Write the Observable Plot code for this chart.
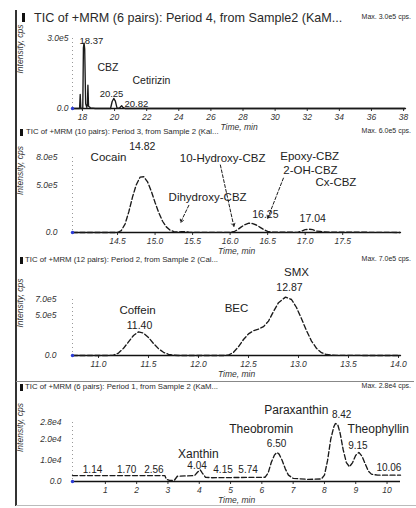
<!DOCTYPE html>
<html><head><meta charset="utf-8">
<script src="https://cdn.jsdelivr.net/npm/d3@7"></script>
<script src="https://cdn.jsdelivr.net/npm/@observablehq/plot@0.6"></script>
<style>
html,body{margin:0;padding:0;background:#fff;}
#chart{position:relative;width:416px;height:508px;overflow:hidden;font-family:"Liberation Sans",Arial,sans-serif;color:#222;}
#chart svg{position:absolute;left:0;top:0;}
.t{position:absolute;white-space:nowrap;line-height:1;color:#2a2a2a;}
.bar{position:absolute;background:#111;}
.ln{position:absolute;}
</style></head><body><div id="chart"></div>
<script>
// ---------- Panel 1 : Period 4 ----------
const p1Time = [17.38, 17.82, 17.86, 17.9, 18.02, 18.06, 18.1, 18.14, 18.2, 18.27, 18.31, 18.34, 18.38, 18.5, 18.8, 19.75, 19.85, 19.95, 20.05, 20.15, 20.3, 20.38, 20.44, 20.52, 20.65, 38.12];
const p1Intensity = [0, 0, 0.6e5, 0, 0, 2.6e5, 2.8e5, 2.55e5, 0.2e5, 0.05e5, 0.2e5, 1.0e5, 0.1e5, 0.03e5, 0, 0, 0.3e5, 0.43e5, 0.32e5, 0.03e5, 0.01e5, 0.08e5, 0.12e5, 0.05e5, 0, 0];
const p1Names = ["CBZ", "Cetirizin"];
const p1NameTime = [19.59, 22.3];
const p1NameInt = [1.76e5, 1.2e5];
const p1Peaks = ["18.37", "20.25", "20.82"];
const p1PeakTime = [18.56, 19.81, 21.36];
const p1PeakInt = [2.91e5, 0.64e5, 0.21e5];
const p1XTicks = [18, 20, 22, 24, 26, 28, 30, 32, 34, 36, 38];
const p1YTicks = [0, 3e5];
const p1YLabels = ["0.0", "3.0e5"];
const p1XDomain = [17.38, 38.12];
const p1YDomain = [0, 3e5];

// ---------- Panel 2 : Period 3 ----------
const p2Time = [13.9, 14.5, 14.55, 14.6, 14.65, 14.7, 14.75, 14.8, 14.85, 14.9, 14.95, 15.0, 15.05, 15.1, 15.15, 15.2, 15.25, 15.3, 15.35, 15.4, 15.45, 15.5, 16.0, 16.05, 16.1, 16.15, 16.2, 16.25, 16.3, 16.35, 16.4, 16.45, 16.5, 16.55, 16.9, 16.95, 17.0, 17.05, 17.1, 17.15, 17.2, 17.25, 18.27];
const p2Intensity = [0, 0, 0.2e5, 0.9e5, 2.2e5, 3.8e5, 5.1e5, 5.9e5, 5.95e5, 5.4e5, 4.4e5, 3.2e5, 2.1e5, 1.2e5, 0.6e5, 0.25e5, 0.1e5, 0.05e5, 0.08e5, 0.1e5, 0.03e5, 0.01e5, 0.02e5, 0.08e5, 0.3e5, 0.6e5, 0.85e5, 1.0e5, 0.95e5, 0.8e5, 0.55e5, 0.3e5, 0.12e5, 0.03e5, 0.02e5, 0.15e5, 0.3e5, 0.35e5, 0.3e5, 0.15e5, 0.12e5, 0.05e5, 0];
const p2Names = ["Cocain", "10-Hydroxy-CBZ", "Dihydroxy-CBZ", "Epoxy-CBZ", "2-OH-CBZ", "Cx-CBZ"];
const p2NameTime = [14.38, 15.9, 15.7, 17.06, 17.07, 17.41];
const p2NameInt = [8.0e5, 7.9e5, 3.75e5, 8.15e5, 6.6e5, 5.36e5];
const p2Peaks = ["14.82", "16.25", "17.04"];
const p2PeakTime = [14.83, 16.47, 17.1];
const p2PeakInt = [9.2e5, 1.93e5, 1.5e5];
const p2ArrowFromT = [15.45, 15.87, 16.71];
const p2ArrowFromI = [2.9e5, 7.2e5, 5.8e5];
const p2ArrowToT = [15.34, 16.05, 16.5];
const p2ArrowToI = [1.07e5, 0.65e5, 1.5e5];
const p2XTicks = [14.5, 15.0, 15.5, 16.0, 16.5, 17.0, 17.5];
const p2YTicks = [0, 5e5, 8e5];
const p2YLabels = ["0.0", "5.0e5", "8.0e5"];
const p2XDomain = [13.9, 18.27];
const p2YDomain = [0, 8e5];

// ---------- Panel 3 : Period 2 ----------
const p3Time = [10.74, 11.1, 11.15, 11.2, 11.25, 11.3, 11.35, 11.4, 11.45, 11.5, 11.55, 11.6, 11.65, 11.7, 11.75, 11.8, 12.25, 12.3, 12.35, 12.4, 12.45, 12.5, 12.55, 12.6, 12.65, 12.7, 12.75, 12.8, 12.87, 12.93, 12.98, 13.03, 13.08, 13.13, 13.18, 13.23, 13.28, 13.33, 13.38, 14.02];
const p3Intensity = [0, 0, 0.05e5, 0.3e5, 0.9e5, 1.7e5, 2.5e5, 2.95e5, 2.8e5, 2.25e5, 1.5e5, 0.85e5, 0.4e5, 0.15e5, 0.04e5, 0, 0, 0.05e5, 0.4e5, 1.1e5, 2.0e5, 2.7e5, 3.1e5, 3.3e5, 3.6e5, 4.3e5, 5.5e5, 6.6e5, 7.3e5, 7.0e5, 6.0e5, 4.6e5, 3.1e5, 1.8e5, 0.9e5, 0.35e5, 0.12e5, 0.04e5, 0.01e5, 0];
const p3Names = ["Coffein", "BEC", "SMX"];
const p3NameTime = [11.39, 12.38, 12.98];
const p3NameInt = [5.6e5, 5.9e5, 10.4e5];
const p3Peaks = ["11.40", "12.87"];
const p3PeakTime = [11.41, 12.91];
const p3PeakInt = [3.75e5, 8.5e5];
const p3XTicks = [11.0, 11.5, 12.0, 12.5, 13.0, 13.5, 14.0];
const p3YTicks = [0, 5e5, 7e5];
const p3YLabels = ["0.0", "5.0e5", "7.0e5"];
const p3XDomain = [10.74, 14.02];
const p3YDomain = [0, 7e5];

// ---------- Panel 4 : Period 1 ----------
const p4Time = [-0.05, 2.9, 2.95, 3.05, 3.2, 3.3, 3.85, 3.95, 4.03, 4.1, 4.2, 4.4, 6.1, 6.2, 6.3, 6.4, 6.48, 6.55, 6.65, 6.75, 6.85, 7.0, 7.5, 7.9, 8.0, 8.1, 8.2, 8.3, 8.35, 8.42, 8.5, 8.6, 8.7, 8.8, 8.9, 9.0, 9.1, 9.2, 9.3, 9.4, 9.5, 9.7, 10.43];
const p4Intensity = [0.28e4, 0.28e4, 0.1e4, 0.05e4, 0.05e4, 0.25e4, 0.28e4, 0.45e4, 0.55e4, 0.4e4, 0.2e4, 0.18e4, 0.2e4, 0.4e4, 0.9e4, 1.25e4, 1.38e4, 1.3e4, 1.0e4, 0.6e4, 0.3e4, 0.15e4, 0.1e4, 0.12e4, 0.3e4, 1.0e4, 2.0e4, 2.6e4, 2.75e4, 2.72e4, 2.3e4, 1.5e4, 0.9e4, 0.7e4, 0.9e4, 1.25e4, 1.38e4, 1.2e4, 0.85e4, 0.5e4, 0.35e4, 0.3e4, 0.3e4];
const p4Names = ["Xanthin", "Theobromin", "Paraxanthin", "Theophyllin"];
const p4NameTime = [3.97, 5.98, 7.1, 9.72];
const p4NameInt = [1.3e4, 2.5e4, 3.4e4, 2.5e4];
const p4Peaks = ["1.14", "1.70", "2.56", "4.04", "4.15", "5.74", "6.50", "8.42", "9.15", "10.06"];
const p4PeakTime = [0.59, 1.68, 2.55, 3.93, 4.76, 5.56, 6.47, 8.55, 9.07, 10.06];
const p4PeakInt = [0.57e4, 0.57e4, 0.57e4, 0.76e4, 0.57e4, 0.57e4, 1.8e4, 3.15e4, 1.71e4, 0.67e4];
const p4XTicks = [1, 2, 3, 4, 5, 6, 7, 8, 9, 10];
const p4YTicks = [0, 1e4, 2e4, 2.8e4];
const p4YLabels = ["0.0", "1.0e4", "2.0e4", "2.8e4"];
const p4XDomain = [-0.05, 10.43];
const p4YDomain = [0, 2.8e4];

const titles = [
  "TIC of +MRM (6 pairs): Period 4, from Sample2 (KaM...",
  "TIC of +MRM (10 pairs): Period 3, from Sample 2 (Kal...",
  "TIC of +MRM (12 pairs): Period 2, from Sample 2 (Cal...",
  "TIC of +MRM (6 pairs): Period 1, from Sample 2 (KaM..."
];
const maxTexts = ["Max. 3.0e5 cps.", "Max. 6.0e5 cps.", "Max. 7.0e5 cps.", "Max. 2.8e4 cps."];
const xAxisLabel = "Time, min";
const yAxisLabel = "Intensity, cps";

// ---------- drawing ----------
const chart = document.getElementById("chart");
const W = 416, H = 508;
const FONT = "Liberation Sans, Arial, sans-serif";

function rows(...cols) { return d3.range(cols[0].length).map(i => cols.map(c => c[i])); }

function panel(o) {
  const trace = rows(o.time, o.intensity);
  const names = rows(o.nameTime, o.nameInt, o.names);
  const peaks = rows(o.peakTime, o.peakInt, o.peaks);
  const yMap = new Map(o.yTicks.map((v, i) => [v, o.yLabels[i]]));
  const marks = [
    Plot.ruleX([o.xDomain[0]], {stroke: "#999", strokeDasharray: "1,3"}),
    Plot.ruleY([0], {stroke: "#111", strokeWidth: 1.6}),
    Plot.line(trace, {x: d => d[0], y: d => d[1], stroke: "#1a1a1a", strokeWidth: 1.35, strokeDasharray: o.dash}),
    Plot.text(names, {x: d => d[0], y: d => d[1], text: d => d[2], fontSize: o.nameSize, fontStyle: "normal", fill: "#222"}),
    Plot.text(peaks, {x: d => d[0], y: d => d[1], text: d => d[2], fontSize: o.peakSize, fontStyle: "normal", fill: "#222"}),
    Plot.dot([[o.xDomain[0], 0]], {x: d => d[0], y: d => d[1], r: 1.7, fill: "#2b3bd6", stroke: null}),
    Plot.text([xAxisLabel], {frameAnchor: "bottom", dy: 21, text: d => d, fontSize: 8.5, fontStyle: "italic", fill: "#333"}),
    Plot.text([yAxisLabel], {frameAnchor: "left", rotate: -90, dx: -52, text: d => d, fontSize: 8.5, fontStyle: "italic", fill: "#333"})
  ];
  if (o.arrows) marks.push(Plot.arrow(o.arrows, {x1: d => d[0], y1: d => d[1], x2: d => d[2], y2: d => d[3], stroke: "#1a1a1a", strokeWidth: 1, strokeDasharray: "3,2", headLength: 5}));
  const svg = Plot.plot({
    width: W, height: H,
    marginLeft: 72, marginRight: W - o.right,
    marginTop: o.top, marginBottom: H - o.axis,
    style: {background: "transparent", fontFamily: FONT, fontSize: "8.5px", fontStyle: "italic", color: "#333", overflow: "visible"},
    x: {domain: o.xDomain, ticks: o.xTicks, tickFormat: o.xFormat, tickSize: 3, tickPadding: 2, label: null},
    y: {domain: o.yDomain, ticks: o.yTicks, tickFormat: d => yMap.get(d), tickSize: 0, tickPadding: o.yPad, label: null},
    marks
  });
  chart.appendChild(svg);
}

panel({time: p1Time, intensity: p1Intensity, names: p1Names, nameTime: p1NameTime, nameInt: p1NameInt,
  peaks: p1Peaks, peakTime: p1PeakTime, peakInt: p1PeakInt, xTicks: p1XTicks, yTicks: p1YTicks, yLabels: p1YLabels,
  xDomain: p1XDomain, yDomain: p1YDomain, xFormat: d3.format("d"), top: 38, axis: 108, right: 405, yPad: 4,
  nameSize: 10.5, peakSize: 9.5, dash: null});
panel({time: p2Time, intensity: p2Intensity, names: p2Names, nameTime: p2NameTime, nameInt: p2NameInt,
  peaks: p2Peaks, peakTime: p2PeakTime, peakInt: p2PeakInt, xTicks: p2XTicks, yTicks: p2YTicks, yLabels: p2YLabels,
  xDomain: p2XDomain, yDomain: p2YDomain, xFormat: d3.format(".1f"), top: 157, axis: 232, right: 400, yPad: 15,
  nameSize: 11.5, peakSize: 10.5, dash: "5,2.5",
  arrows: rows(p2ArrowFromT, p2ArrowFromI, p2ArrowToT, p2ArrowToI)});
panel({time: p3Time, intensity: p3Intensity, names: p3Names, nameTime: p3NameTime, nameInt: p3NameInt,
  peaks: p3Peaks, peakTime: p3PeakTime, peakInt: p3PeakInt, xTicks: p3XTicks, yTicks: p3YTicks, yLabels: p3YLabels,
  xDomain: p3XDomain, yDomain: p3YDomain, xFormat: d3.format(".1f"), top: 299, axis: 355, right: 400, yPad: 16,
  nameSize: 11.5, peakSize: 10.5, dash: "5,2.5"});
panel({time: p4Time, intensity: p4Intensity, names: p4Names, nameTime: p4NameTime, nameInt: p4NameInt,
  peaks: p4Peaks, peakTime: p4PeakTime, peakInt: p4PeakInt, xTicks: p4XTicks, yTicks: p4YTicks, yLabels: p4YLabels,
  xDomain: p4XDomain, yDomain: p4YDomain, xFormat: d3.format("d"), top: 422, axis: 481, right: 400, yPad: 11,
  nameSize: 12, peakSize: 10, dash: "5,2.5"});

// titles, max labels, markers, frame lines
function add(cls, css, text) {
  const d = document.createElement("div");
  d.className = cls;
  Object.assign(d.style, css);
  if (text) d.textContent = text;
  chart.appendChild(d);
}
add("ln", {left: "15px", top: "10px", width: "1.5px", height: "496px", background: "#333"});
add("ln", {left: "16px", top: "381px", width: "398px", height: "1px", background: "#888"});
add("ln", {left: "16px", top: "505px", width: "400px", height: "1px", background: "#bbb"});
const titleY = [19, 133, 261, 388];
const titleSize = [12.6, 7.8, 7.8, 7.8];
const titleX = [34, 26, 25, 25];
titles.forEach((t, i) => {
  add("t", {left: titleX[i] + "px", top: (titleY[i] - titleSize[i] * 0.58) + "px", fontSize: titleSize[i] + "px"}, t);
  add("t", {right: "5px", top: (titleY[i] - 2 - 4) + "px", fontSize: "7px"}, maxTexts[i]);
  add("bar", {left: (i === 0 ? 22 : 20) + "px", top: (titleY[i] - (i === 0 ? 6 : 4)) + "px", width: "3px", height: (i === 0 ? 9 : 7) + "px"});
});
</script></body></html>
